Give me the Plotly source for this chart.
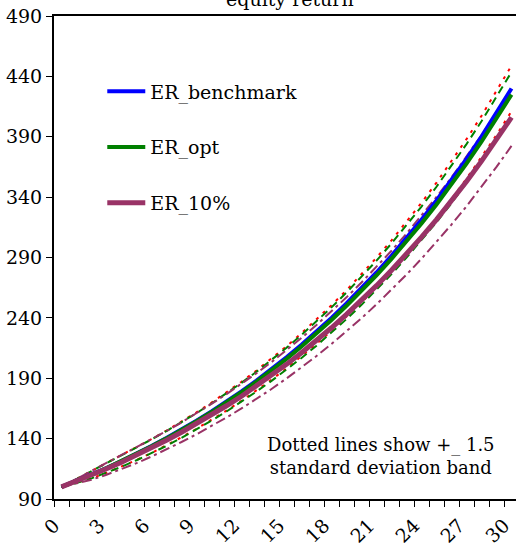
import plotly.graph_objects as go

years = list(range(31))

er_benchmark = [100, 105.0, 110.2, 115.7, 121.5, 127.5, 133.9, 140.5, 147.5, 154.9, 162.6,
                170.7, 179.2, 188.1, 197.5, 207.4, 217.7, 228.5, 239.9, 251.9, 264.4,
                277.6, 291.4, 305.9, 321.2, 337.2, 354.0, 371.6, 390.1, 409.6, 430.0]
er_opt = [100, 104.9, 110.1, 115.6, 121.3, 127.3, 133.6, 140.2, 147.1, 154.4, 162.0,
          170.0, 178.4, 187.2, 196.4, 206.1, 216.3, 227.0, 238.2, 250.0, 262.4,
          275.3, 288.9, 303.2, 318.2, 333.9, 350.4, 367.7, 385.9, 404.9, 424.9]
er_10 = [100, 104.8, 109.8, 115.0, 120.5, 126.3, 132.3, 138.7, 145.3, 152.3, 159.5,
         167.2, 175.1, 183.5, 192.3, 201.5, 211.1, 221.2, 231.8, 242.9, 254.5,
         266.7, 279.4, 292.8, 306.8, 321.4, 336.8, 352.9, 369.8, 387.5, 406.0]

bench_upper = [100, 106.6, 113.2, 119.7, 126.1, 132.7, 139.6, 146.7, 154.0, 161.7, 169.8,
               178.2, 187.1, 196.4, 206.2, 216.5, 227.3, 238.6, 250.5, 262.9, 276.0,
               289.8, 304.2, 319.4, 335.3, 352.0, 369.5, 388.0, 407.3, 427.6, 448.9]
bench_lower = [100, 103.3, 107.2, 111.7, 116.8, 122.3, 128.1, 134.4, 141.1, 148.1, 155.5,
               163.2, 171.3, 179.9, 188.8, 198.2, 208.1, 218.5, 229.4, 240.8, 252.8,
               265.4, 278.6, 292.5, 307.0, 322.3, 338.4, 355.3, 373.0, 391.5, 411.0]
opt_upper = [100, 106.5, 113.1, 119.5, 125.9, 132.4, 139.3, 146.3, 153.6, 161.1, 169.1,
             177.5, 186.2, 195.4, 205.1, 215.2, 225.9, 237.0, 248.7, 261.0, 273.9,
             287.4, 301.6, 316.5, 332.2, 348.6, 365.8, 383.9, 402.8, 422.8, 443.6]
opt_lower = [100, 103.2, 107.1, 111.6, 116.7, 122.1, 127.8, 134.0, 140.6, 147.6, 154.9,
             162.5, 170.5, 179.0, 187.8, 197.1, 206.8, 217.0, 227.8, 239.0, 250.8,
             263.2, 276.2, 289.9, 304.2, 319.2, 335.0, 351.5, 368.9, 387.1, 406.2]
er10_upper = [100, 106.8, 113.6, 120.0, 126.5, 132.9, 139.5, 146.3, 153.4, 160.9, 168.8,
              176.9, 185.3, 194.2, 203.4, 213.2, 223.4, 234.1, 245.2, 257.0, 269.3,
              282.1, 295.6, 309.8, 324.6, 340.1, 356.3, 373.4, 391.2, 409.9, 429.5]
er10_lower = [100, 102.7, 106.0, 110.1, 114.6, 119.7, 125.2, 131.0, 137.2, 143.6, 150.3,
              157.5, 165.0, 172.9, 181.1, 189.8, 198.9, 208.4, 218.4, 228.8, 239.7,
              251.2, 263.2, 275.8, 289.0, 302.8, 317.3, 332.4, 348.3, 365.0, 382.4]

tick_labels = [str(y) if y % 3 == 0 else "" for y in years]

BLUE = "#0000FF"
GREEN = "#008000"
RED = "#FF0000"
PLUM = "#993366"
FONT = "DejaVu Serif"

fig = go.Figure()

bands = [
    (bench_upper, RED, "3px,6px"),
    (bench_lower, RED, "3px,6px"),
    (opt_upper, GREEN, "8px,5px"),
    (opt_lower, GREEN, "8px,5px"),
    (er10_upper, PLUM, "10px,4px,3px,4px"),
    (er10_lower, PLUM, "10px,4px,3px,4px"),
]
for vals, col, dash in bands:
    fig.add_trace(go.Scatter(x=years, y=vals, mode="lines", showlegend=False,
                             line=dict(color=col, width=2, dash=dash)))

for name, vals, col, w in [("ER_benchmark", er_benchmark, BLUE, 4),
                           ("ER_opt", er_opt, GREEN, 4),
                           ("ER_10%", er_10, PLUM, 5)]:
    fig.add_trace(go.Scatter(x=years, y=vals, mode="lines", name=name, legendgroup=name,
                             line=dict(color=col, width=w)))

fig.update_layout(
    width=516, height=550,
    margin=dict(l=54, r=0, t=16, b=51),
    paper_bgcolor="white", plot_bgcolor="white",
    font=dict(family=FONT, size=19, color="black"),
    legend=dict(x=0.1045, y=0.883, xanchor="left", yanchor="top",
                bgcolor="rgba(0,0,0,0)", font=dict(family=FONT, size=19),
                tracegroupgap=28, itemwidth=38),
    xaxis=dict(range=[-0.5, 30.3], tickmode="array",
               tickvals=[y - 0.5 for y in years], ticktext=tick_labels,
               tickangle=-45, ticks="outside", ticklen=6, tickcolor="black", tickwidth=1,
               showline=True, linecolor="black", linewidth=2, mirror=True,
               showgrid=False, zeroline=False,
               tickfont=dict(family=FONT, size=19)),
    yaxis=dict(range=[90, 490], tick0=90, dtick=50, ticks="outside", ticklen=6,
               tickcolor="black", tickwidth=1,
               showline=True, linecolor="black", linewidth=2,
               showgrid=False, zeroline=False,
               tickfont=dict(family=FONT, size=19)),
    annotations=[
        dict(text="equity return", xref="paper", yref="paper", x=0.511, y=1.008,
             xanchor="center", yanchor="bottom", showarrow=False,
             font=dict(family=FONT, size=19)),
        dict(text="Dotted lines show +_ 1.5<br>standard deviation band", xref="paper",
             yref="paper", x=0.708, y=0.088, xanchor="center", yanchor="middle",
             showarrow=False, align="center", font=dict(family=FONT, size=18)),
    ],
)

fig.write_html("out.html")
